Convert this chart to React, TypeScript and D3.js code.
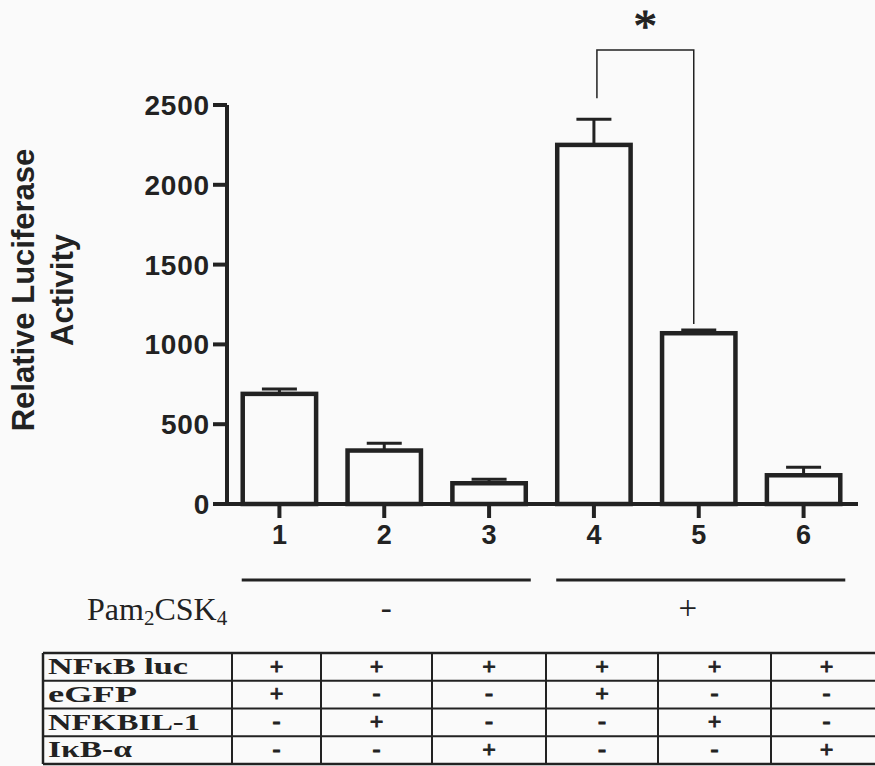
import React from "react";
import * as d3 from "d3";

const categories = ["1", "2", "3", "4", "5", "6"];
const values = [690, 335, 130, 2250, 1070, 180];
const errors = [30, 45, 25, 160, 20, 50];
const yTicks = [0, 500, 1000, 1500, 2000, 2500];
const yLabelLines = ["Relative Luciferase", "Activity"];
const groupMembers = [["1", "2", "3"], ["4", "5", "6"]];
const groupSigns = ["-", "+"];
const tableRowLabels = ["NFκB luc", "eGFP", "NFKBIL-1", "IκB-α"];
const rowNfkbLuc = ["+", "+", "+", "+", "+", "+"];
const rowEgfp = ["+", "-", "-", "+", "-", "-"];
const rowNfkbil1 = ["-", "+", "-", "-", "+", "-"];
const rowIkba = ["-", "-", "+", "-", "-", "+"];
const sigPair = ["4", "5"];
const sigLabel = "*";

const W = 875;
const H = 766;
const INK = "#222";
const SANS = "'Liberation Sans', Arial, sans-serif";
const SERIF = "'Liberation Serif', 'Times New Roman', serif";

export default function App() {
  const x = d3
    .scaleBand<string>()
    .domain(categories)
    .range([227, 856])
    .paddingInner(0.3)
    .paddingOuter(0.15);
  const y = d3.scaleLinear().domain([0, 2500]).range([504, 105]);
  const bw = x.bandwidth();
  const cx = (c: string) => (x(c) as number) + bw / 2;

  const tableRows = [rowNfkbLuc, rowEgfp, rowNfkbil1, rowIkba];
  const labelWidths = [140, 89, 152, 84];
  const colX = d3
    .scaleLinear()
    .domain([0, 1, 2, 3, 4, 5, 6])
    .range([232, 321, 432, 546, 658, 771, 882]);
  const rowY = d3.scaleLinear().domain([0, 4]).range([653, 764]);
  const tableLeft = 43;

  const i4 = categories.indexOf(sigPair[0]);
  const i5 = categories.indexOf(sigPair[1]);
  const bLeft = cx(sigPair[0]) + 3;
  const bRight = cx(sigPair[1]) - 5;
  const bTop = 50;
  const bLeftBottom = y(values[i4] + errors[i4]) - 21;
  const bRightBottom = y(values[i5] + errors[i5]) - 6;

  return (
    <svg
      width={W}
      height={H}
      style={{ position: "absolute", left: 0, top: 0, background: "#fafafa" }}
    >
      {/* y label */}
      {yLabelLines.map((t, i) => (
        <text
          key={t}
          transform={`translate(${34 + i * 39},290) rotate(-90)`}
          textAnchor="middle"
          fontFamily={SANS}
          fontWeight="bold"
          fontSize={31}
          fill={INK}
        >
          {t}
        </text>
      ))}

      {/* y axis */}
      <line x1={227} x2={227} y1={y(2500)} y2={y(0) + 2} stroke={INK} strokeWidth={4} />
      {yTicks.map((t) => (
        <g key={t}>
          <line x1={213} x2={227} y1={y(t)} y2={y(t)} stroke={INK} strokeWidth={4} />
          <text
            x={210}
            y={y(t) + 10}
            textAnchor="end"
            fontFamily={SANS}
            fontWeight="bold"
            fontSize={28}
            letterSpacing={0.8}
            fill={INK}
          >
            {t}
          </text>
        </g>
      ))}

      {/* x axis */}
      <line x1={225} x2={858} y1={y(0)} y2={y(0)} stroke={INK} strokeWidth={4} />
      {categories.map((c) => (
        <g key={c}>
          <line x1={cx(c)} x2={cx(c)} y1={y(0)} y2={y(0) + 14} stroke={INK} strokeWidth={4} />
          <text
            x={cx(c)}
            y={544}
            textAnchor="middle"
            fontFamily={SANS}
            fontWeight="bold"
            fontSize={27}
            fill={INK}
          >
            {c}
          </text>
        </g>
      ))}

      {/* bars */}
      {categories.map((c, i) => (
        <g key={c}>
          <line
            x1={cx(c)}
            x2={cx(c)}
            y1={y(values[i])}
            y2={y(values[i] + errors[i])}
            stroke={INK}
            strokeWidth={3}
          />
          <line
            x1={cx(c) - 17.5}
            x2={cx(c) + 17.5}
            y1={y(values[i] + errors[i])}
            y2={y(values[i] + errors[i])}
            stroke={INK}
            strokeWidth={3}
          />
          <rect
            x={x(c)}
            y={y(values[i])}
            width={bw}
            height={y(0) - y(values[i])}
            fill="none"
            stroke={INK}
            strokeWidth={4.5}
          />
        </g>
      ))}

      {/* significance bracket */}
      <path
        d={`M${bLeft},${bLeftBottom}V${bTop}H${bRight}V${bRightBottom}`}
        fill="none"
        stroke={INK}
        strokeWidth={1.5}
      />
      <text
        x={(bLeft + bRight) / 2}
        y={42}
        textAnchor="middle"
        fontFamily={SERIF}
        fontSize={47}
        stroke={INK}
        strokeWidth={1}
        fill={INK}
      >
        {sigLabel}
      </text>

      {/* group lines */}
      {groupMembers.map((g, gi) => {
        const x1 = (x(g[0]) as number) - 1;
        const x2 = (x(g[g.length - 1]) as number) + bw + 5;
        return (
          <g key={gi}>
            <line x1={x1} x2={x2} y1={580} y2={580} stroke={INK} strokeWidth={3} />
            <text
              x={cx(g[1]) + (gi === 0 ? 2 : -11)}
              y={619}
              textAnchor="middle"
              fontFamily={SERIF}
              fontSize={33}
              fill={INK}
            >
              {groupSigns[gi]}
            </text>
          </g>
        );
      })}
      <text x={87} y={620} fontFamily={SERIF} fontSize={32} fill={INK}>
        Pam
        <tspan fontSize={21} dy={5}>2</tspan>
        <tspan dy={-5}>CSK</tspan>
        <tspan fontSize={21} dy={5}>4</tspan>
      </text>

      {/* table */}
      {[0, 1, 2, 3, 4].map((r) => (
        <line
          key={"h" + r}
          x1={tableLeft}
          x2={colX(6)}
          y1={rowY(r)}
          y2={rowY(r)}
          stroke={INK}
          strokeWidth={r === 0 || r === 4 ? 2.5 : 2}
        />
      ))}
      <line x1={tableLeft} x2={tableLeft} y1={rowY(0)} y2={rowY(4)} stroke={INK} strokeWidth={2.5} />
      {[0, 1, 2, 3, 4, 5, 6].map((k) => (
        <line
          key={"v" + k}
          x1={colX(k)}
          x2={colX(k)}
          y1={rowY(0)}
          y2={rowY(4)}
          stroke={INK}
          strokeWidth={2}
        />
      ))}
      {tableRowLabels.map((lab, r) => (
        <text
          key={lab}
          x={48}
          y={rowY(r) + 21}
          fontFamily={SERIF}
          fontWeight="bold"
          fontSize={24}
          textLength={labelWidths[r]}
          lengthAdjust="spacingAndGlyphs"
          fill={INK}
        >
          {lab}
        </text>
      ))}
      {tableRows.map((row, r) =>
        row.map((s, k) => (
          <text
            key={r + "-" + k}
            x={(colX(k) + colX(k + 1)) / 2}
            y={rowY(r) + 20.5}
            textAnchor="middle"
            fontFamily={SERIF}
            fontWeight="bold"
            fontSize={24}
            stroke={INK}
            strokeWidth={0.9}
            fill={INK}
          >
            {s}
          </text>
        ))
      )}
    </svg>
  );
}
